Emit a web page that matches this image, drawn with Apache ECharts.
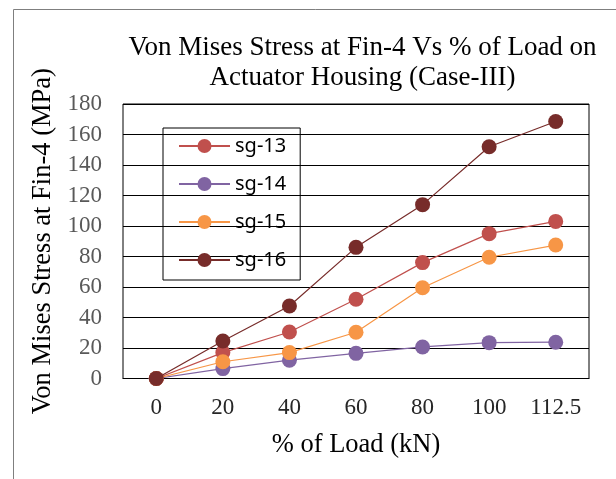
<!DOCTYPE html>
<html>
<head>
<meta charset="utf-8">
<script src="https://cdn.jsdelivr.net/npm/echarts@6/dist/echarts.min.js"></script>
<style>html,body{margin:0;padding:0;background:#fff;}#c{width:616px;height:479px;}</style>
</head>
<body>
<div id="c"></div>
<script>
const categories = ['0', '20', '40', '60', '80', '100', '112.5'];
const sg13 = [0, 17, 30.5, 52, 76, 95, 103];
const sg14 = [0, 6.5, 12, 16.5, 20.7, 23.5, 23.8];
const sg15 = [0, 11, 17, 30.3, 59.5, 79.5, 87.5];
const sg16 = [0, 24.6, 47.5, 86, 114, 152, 168.5];
const seriesNames = ['sg-13', 'sg-14', 'sg-15', 'sg-16'];
const seriesColors = ['#C0504D', '#8064A2', '#F79646', '#772C2A'];
const yTicks = { min: 0, max: 180, interval: 20 };

const serif = '"Liberation Serif", "Times New Roman", serif';
const chart = echarts.init(document.getElementById('c'), null, { renderer: 'canvas' });
const dataSets = [sg13, sg14, sg15, sg16];

chart.setOption({
  animation: false,
  backgroundColor: '#fff',
  graphic: [{
    type: 'rect', silent: true,
    shape: { x: 13.5, y: 9.5, width: 640, height: 500 },
    style: { fill: 'none', stroke: '#7f7f7f', lineWidth: 1 }
  }],
  title: {
    text: 'Von Mises Stress at Fin-4 Vs % of Load on\nActuator Housing (Case-III)',
    left: 357.5, top: 28, textAlign: 'center',
    textStyle: { fontFamily: serif, fontSize: 27, fontWeight: 'normal', color: '#000', lineHeight: 30 }
  },
  legend: {
    orient: 'vertical',
    left: 163, top: 128,
    padding: [8, 14, 10, 15],
    borderColor: '#000', borderWidth: 1,
    itemWidth: 51, itemHeight: 17.5, itemGap: 18,
    data: seriesNames,
    textStyle: { fontFamily: '"Noto Sans", "Liberation Sans", sans-serif', fontSize: 20, color: '#000' }
  },
  grid: { left: 123, right: 27, top: 104, bottom: 100.5, show: true, borderColor: '#000', borderWidth: 1 },
  xAxis: {
    type: 'category', data: categories, boundaryGap: true,
    name: '% of Load (kN)', nameLocation: 'middle', nameGap: 53,
    nameTextStyle: { fontFamily: serif, fontSize: 26.5, color: '#000' },
    axisLine: { lineStyle: { color: '#000' } },
    axisTick: { show: false },
    axisLabel: { interval: 0, hideOverlap: false, fontFamily: serif, fontSize: 23, color: '#262626', margin: 18 }
  },
  yAxis: {
    type: 'value', min: yTicks.min, max: yTicks.max, interval: yTicks.interval,
    name: 'Von Mises Stress at Fin-4 (MPa)', nameLocation: 'middle', nameGap: 58,
    nameTextStyle: { fontFamily: serif, fontSize: 26.5, color: '#000' },
    axisLine: { show: false }, axisTick: { show: false },
    axisLabel: { fontFamily: serif, fontSize: 23, color: '#595959', margin: 21 },
    splitLine: { lineStyle: { color: '#000', width: 1 } }
  },
  series: seriesNames.map((n, i) => ({
    name: n, type: 'line', data: dataSets[i],
    symbol: 'circle', symbolSize: 15,
    itemStyle: { color: seriesColors[i] },
    lineStyle: { color: seriesColors[i], width: 1.2 },
    z: 2 + i
  }))
});
</script>
</body>
</html>
